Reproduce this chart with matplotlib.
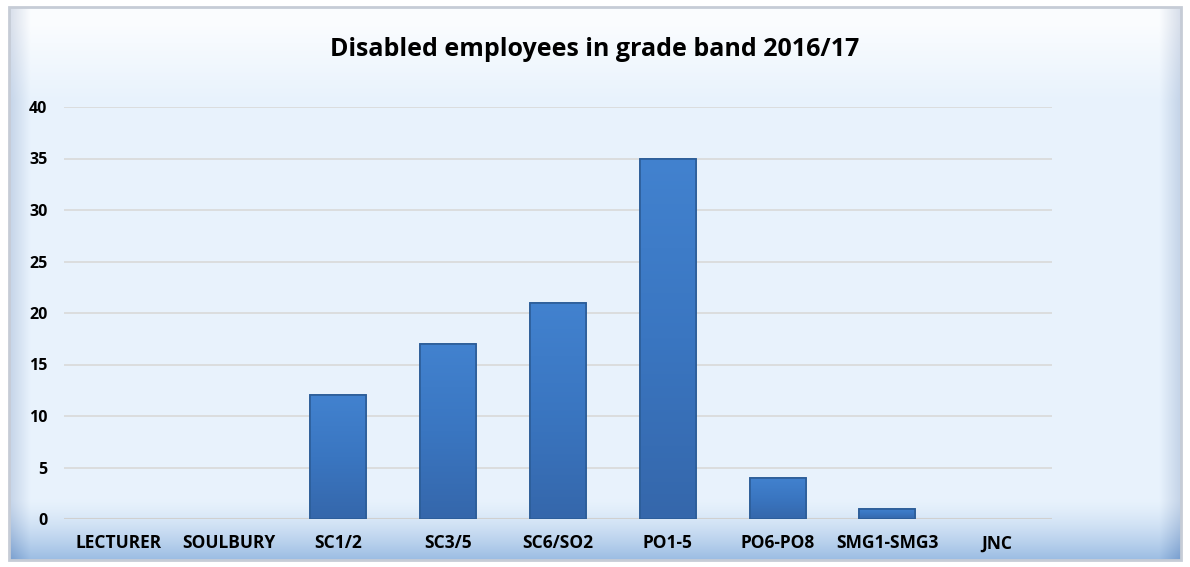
import numpy as np
import matplotlib.pyplot as plt
from matplotlib.colors import LinearSegmentedColormap

grades = ['LECTURER', 'SOULBURY', 'SC1/2', 'SC3/5', 'SC6/SO2', 'PO1-5', 'PO6-PO8', 'SMG1-SMG3', 'JNC']
counts = [0, 0, 12, 17, 21, 35, 4, 1, 0]
yticks = [0, 5, 10, 15, 20, 25, 30, 35, 40]

plt.rcParams['font.family'] = ['Open Sans', 'DejaVu Sans']

fig = plt.figure(figsize=(11.9, 5.67), dpi=100)
fig.patch.set_facecolor('white')

# background panel with a soft gradient, like the office chart frame
bg = fig.add_axes([0, 0, 1, 1], zorder=0)
bg.set_xlim(0, 1190)
bg.set_ylim(567, 0)
bg.axis('off')
h, w = 567, 1190
yy = np.linspace(0, 1, h)[:, None]
xx = np.linspace(0, 1, w)[None, :]
img = np.ones((h, w, 3)) * np.array([0.91, 0.95, 0.99])
band = np.clip((yy - 0.89) / 0.11, 0, 1) ** 1.4
img = img - band[..., None] * np.array([0.30, 0.21, 0.10])
top = np.clip((0.17 - yy) / 0.14, 0, 1)
img = img + top[..., None] * (1 - img) * 0.8
side = np.clip((0.018 - np.minimum(xx, 1 - xx)) / 0.018, 0, 1)
img = img - side[..., None] * np.array([0.14, 0.12, 0.08])
img = np.clip(img, 0, 1)
bg.imshow(img, extent=(9, 1181, 560, 7), aspect='auto', zorder=0)
bg.add_patch(plt.Rectangle((9, 7), 1172, 553, fill=False, ec='#c6ccd6', lw=2, zorder=1))

ax = fig.add_axes([64 / 1190, 1 - 519 / 567, (1052 - 64) / 1190, (519 - 107) / 567], zorder=2)
ax.patch.set_alpha(0)
x = np.arange(len(grades))
bars = ax.bar(x, counts, width=0.51, color='#3b78c4', edgecolor='#2c5d98',
              linewidth=[1.2 if c > 0 else 0 for c in counts], zorder=3)

# vertical gradient inside each bar
cmap = LinearSegmentedColormap.from_list('barblue', ['#3567ab', '#3a76c1', '#4282cf'])
grad = np.linspace(0, 1, 256)[:, None]
for b in bars:
    if b.get_height() <= 0:
        continue
    bx, by, bw, bh = b.get_x(), b.get_y(), b.get_width(), b.get_height()
    im = ax.imshow(grad, cmap=cmap, origin='lower', aspect='auto',
                   extent=(bx, bx + bw, by, by + bh), zorder=3.5)
    im.set_clip_path(b)
    ax.add_patch(plt.Rectangle((bx, by), bw, bh, fill=False, ec='#2c5d98', lw=1.2, zorder=4))

ax.set_xlim(-0.5, len(grades) - 0.5)
ax.set_ylim(0, 40)
ax.set_yticks(yticks)
ax.set_yticklabels([str(t) for t in yticks], fontsize=11.5, fontweight='bold')
ax.set_xticks(x)
ax.set_xticklabels(grades, fontsize=12.5, fontweight='bold')
ax.yaxis.grid(True, color='#d9d9d9', linewidth=1.2, zorder=0)
ax.tick_params(length=0)
ax.tick_params(axis='x', pad=11)
ax.tick_params(axis='y', pad=12)
for s in ax.spines.values():
    s.set_visible(False)
ax.axhline(0, color='#d0d0d0', lw=1.5, zorder=2)

fig.text(0.5, 1 - 50 / 567, 'Disabled employees in grade band 2016/17', ha='center', va='center',
         fontsize=18, fontweight='bold', zorder=3)

fig.savefig('out.png', dpi=100)
